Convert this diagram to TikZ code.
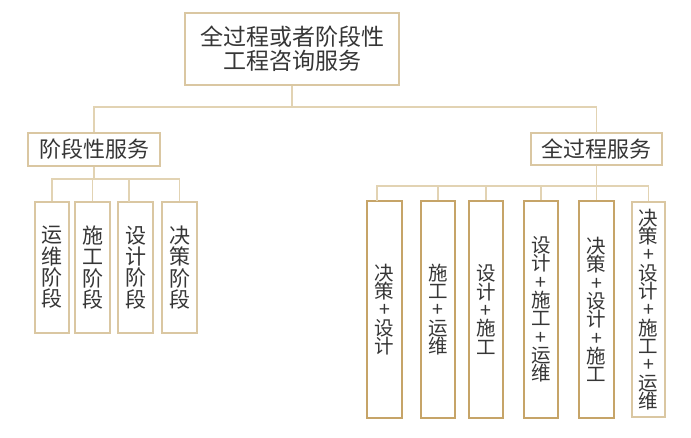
\documentclass[tikz,border=0pt]{standalone}
\usepackage{fontspec}
\newfontfamily\cjk{Noto Sans CJK SC}
\definecolor{linec}{HTML}{E2D3B3}
\definecolor{boxc}{HTML}{DAC7A2}
\definecolor{goldc}{HTML}{C6A468}
\definecolor{txtc}{HTML}{363636}
\tikzset{
  conn/.style={draw=linec, line width=1.4pt},
  lbox/.style={draw=boxc, line width=1.4pt, fill=white, inner sep=0pt, text=txtc, align=center},
  gbox/.style={draw=goldc, line width=2pt, fill=white, inner sep=0pt, text=txtc, align=center},
  topfont/.style={font={\cjk\fontsize{23}{24}\selectfont}},
  midfont/.style={font={\cjk\fontsize{22}{24}\selectfont}},
  lvfont/.style={font={\cjk\fontsize{21}{21.3}\selectfont}},
  rvfont/.style={font={\cjk\fontsize{19.5}{18.3}\selectfont}},
}
\begin{document}
\begin{tikzpicture}[x=1pt,y=-1pt]
\useasboundingbox[fill=white] (0,0) rectangle (691,437);
% top
\node[lbox, topfont, minimum width=214pt, minimum height=72pt] (top) at (292,49) {全过程或者阶段性\\工程咨询服务};
% middle
\node[lbox, midfont, minimum width=132pt, minimum height=33pt] (lmid) at (94,149.5) {阶段性服务};
\node[lbox, midfont, minimum width=131pt, minimum height=32pt] (rmid) at (596.5,149) {全过程服务};
% left boxes
\node[lbox, lvfont, minimum width=34pt, minimum height=131pt] (l1) at (52,267.5) {运\\维\\阶\\段};
\node[lbox, lvfont, minimum width=35pt, minimum height=131pt] (l2) at (92.5,267.5) {施\\工\\阶\\段};
\node[lbox, lvfont, minimum width=35pt, minimum height=131pt] (l3) at (135.5,267.5) {设\\计\\阶\\段};
\node[lbox, lvfont, minimum width=35pt, minimum height=131pt] (l4) at (179.5,267.5) {决\\策\\阶\\段};
% right boxes
\node[gbox, rvfont, minimum width=35pt, minimum height=217pt] (r1) at (384.5,309.5) {决\\策\\+\\设\\计};
\node[gbox, rvfont, minimum width=34pt, minimum height=217pt] (r2) at (438,309.5) {施\\工\\+\\运\\维};
\node[gbox, rvfont, minimum width=34pt, minimum height=217pt] (r3) at (486,309.5) {设\\计\\+\\施\\工};
\node[gbox, rvfont, minimum width=34pt, minimum height=217pt] (r4) at (541,309.5) {设\\计\\+\\施\\工\\+\\运\\维};
\node[gbox, rvfont, minimum width=35pt, minimum height=217pt] (r5) at (596.5,309.5) {决\\策\\+\\设\\计\\+\\施\\工};
\node[lbox, line width=1.1pt, rvfont, minimum width=33pt, minimum height=215pt] (r6) at (648.5,309.5) {决\\策\\+\\设\\计\\+\\施\\工\\+\\运\\维};
% bars and drop points
\coordinate (tbar) at (0,107);
\coordinate (lbar) at (0,179);
\coordinate (rbar) at (0,186);
\coordinate (l3d) at (129,202);
\coordinate (r1d) at (377,201);
% connectors
\draw[conn] (top.south) -- (top.south |- tbar);
\draw[conn] (lmid.north) |- (tbar -| rmid.north) -- (rmid.north);
\draw[conn] (lmid.south) -- (lmid.south |- lbar);
\draw[conn] (l1.north) |- (lbar -| l4.north) -- (l4.north);
\draw[conn] (l2.north) -- (l2.north |- lbar);
\draw[conn] (l3d) -- (l3d |- lbar);
\draw[conn] (rmid.south) -- (rmid.south |- rbar);
\draw[conn] (r1d) |- (rbar -| r6.north) -- (r6.north);
\draw[conn] (r2.north) -- (r2.north |- rbar);
\draw[conn] (r3.north) -- (r3.north |- rbar);
\draw[conn] (r4.north) -- (r4.north |- rbar);
\draw[conn] (r5.north) -- (r5.north |- rbar);
\end{tikzpicture}
\end{document}
